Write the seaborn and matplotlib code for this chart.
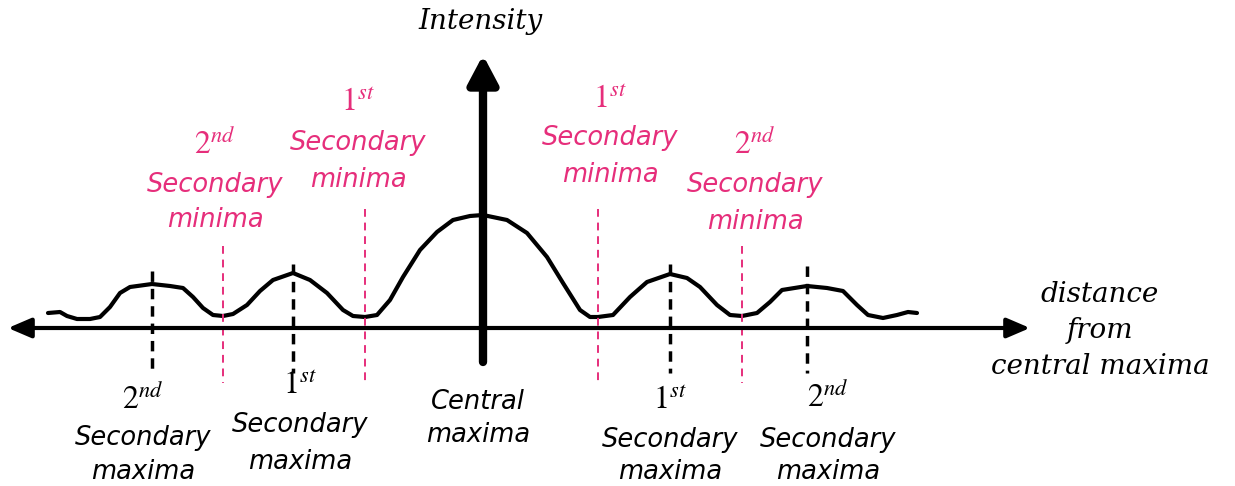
import matplotlib
matplotlib.use("Agg")
import matplotlib.pyplot as plt
import seaborn as sns
import pandas as pd

# ---- data (distance from centre, intensity) ----
curve_x = [-435, -423, -416, -406, -393, -383, -373, -363, -353, -331, -313, -300,
           -290, -280, -270, -260, -250, -236, -223, -210, -190, -173, -156, -140,
           -130, -118, -106, -93, -80, -63, -46, -30, -13, 0,
           24, 44, 64, 80, 97, 107, 115, 130, 147, 164, 187, 204, 217, 234, 247,
           259, 274, 287, 299, 324, 344, 360, 374, 385, 400, 414, 425, 434]
curve_y = [15, 16, 12, 9, 9, 11, 21, 35, 41, 44, 42, 40,
           31, 20, 13, 12, 14, 23, 37, 48, 55, 48, 35, 18,
           12, 11, 13, 28, 51, 78, 96, 108, 112, 113,
           108, 95, 71, 45, 18, 11, 11, 13, 31, 46, 54, 50, 41, 23, 13,
           12, 15, 26, 38, 42, 40, 37, 23, 13, 10, 13, 16, 15]

maxima_x = [-331, -190, 187, 324]
maxima_ord = ["2", "1", "1", "2"]
maxima_sup = ["nd", "st", "st", "nd"]
minima_x = [-260, -118, 115, 259]
minima_ord = ["2", "1", "1", "2"]
minima_sup = ["nd", "st", "st", "nd"]

PINK = "#E62E7B"

sns.set_theme(style="white")
plt.rcParams["mathtext.fontset"] = "stix"

fig = plt.figure(figsize=(12.35, 4.86), dpi=100)
ax = fig.add_axes([0, 0, 1, 1])
ax.set_xlim(-483, 752)
ax.set_ylim(-158, 328)
ax.axis("off")

df = pd.DataFrame({"x": curve_x, "y": curve_y})
sns.lineplot(data=df, x="x", y="y", sort=False, estimator=None,
             color="black", lw=3, ax=ax, solid_joinstyle="round",
             solid_capstyle="round")

# axes arrows
ax.annotate("", xy=(547, 0), xytext=(-475, 0),
            arrowprops=dict(arrowstyle="<|-|>,head_length=0.7,head_width=0.3",
                            mutation_scale=20, lw=3, color="black",
                            shrinkA=0, shrinkB=0))
ax.annotate("", xy=(0, 273), xytext=(0, -34),
            arrowprops=dict(arrowstyle="-|>,head_length=0.85,head_width=0.45",
                            mutation_scale=20, lw=6, color="black",
                            shrinkA=0, shrinkB=0))

# dashed marker lines
for x, ytop in zip(maxima_x, [57, 64, 64, 62]):
    ax.plot([x, x], [ytop, -45], color="black", lw=2.5, ls=(0, (3, 2)))
for x, ytop in zip(minima_x, [82, 119, 119, 82]):
    ax.plot([x, x], [ytop, -55], color=PINK, lw=1.4, ls=(0, (4, 3)))

sans = dict(family="DejaVu Sans", style="oblique")
serif = dict(family="DejaVu Serif", style="italic")
LFS = 18.5
OFS = 23

# minima labels (pink)
min_dx = [-8, -7, 12, 13]
min_rows = [(183, 143, 108), (225, 185, 148), (228, 190, 153), (183, 143, 106)]
for x, o, s, dx, rows in zip(minima_x, minima_ord, minima_sup, min_dx, min_rows):
    ax.text(x + dx, rows[0], rf"${o}^{{{s}}}$", color=PINK, fontsize=OFS,
            ha="center", va="center")
    ax.text(x + dx, rows[1], "Secondary", color=PINK, fontsize=LFS,
            ha="center", va="center", **sans)
    ax.text(x + dx, rows[2], "minima", color=PINK, fontsize=LFS,
            ha="center", va="center", **sans)

# maxima labels (black)
max_dx = [-9, 7, 0, 21]
max_rows = [(-72, -110, -144), (-57, -97, -134), (-72, -112, -144), (-70, -112, -144)]
for x, o, s, dx, rows in zip(maxima_x, maxima_ord, maxima_sup, max_dx, max_rows):
    ax.text(x + dx, rows[0], rf"${o}^{{{s}}}$", color="black", fontsize=OFS,
            ha="center", va="center")
    ax.text(x + dx, rows[1], "Secondary", color="black", fontsize=LFS,
            ha="center", va="center", **sans)
    ax.text(x + dx, rows[2], "maxima", color="black", fontsize=LFS,
            ha="center", va="center", **sans)

ax.text(-5, -74, "Central", color="black", fontsize=LFS, ha="center", va="center", **sans)
ax.text(-5, -107, "maxima", color="black", fontsize=LFS, ha="center", va="center", **sans)

SFS = 20
ax.text(-3, 306, "Intensity", color="black", fontsize=SFS, ha="center", va="center", **serif)
ax.text(617, 33, "distance", color="black", fontsize=SFS, ha="center", va="center", **serif)
ax.text(617, -2, "from", color="black", fontsize=SFS, ha="center", va="center", **serif)
ax.text(617, -39, "central maxima", color="black", fontsize=SFS, ha="center", va="center", **serif)

fig.savefig("out.png", dpi=100)
